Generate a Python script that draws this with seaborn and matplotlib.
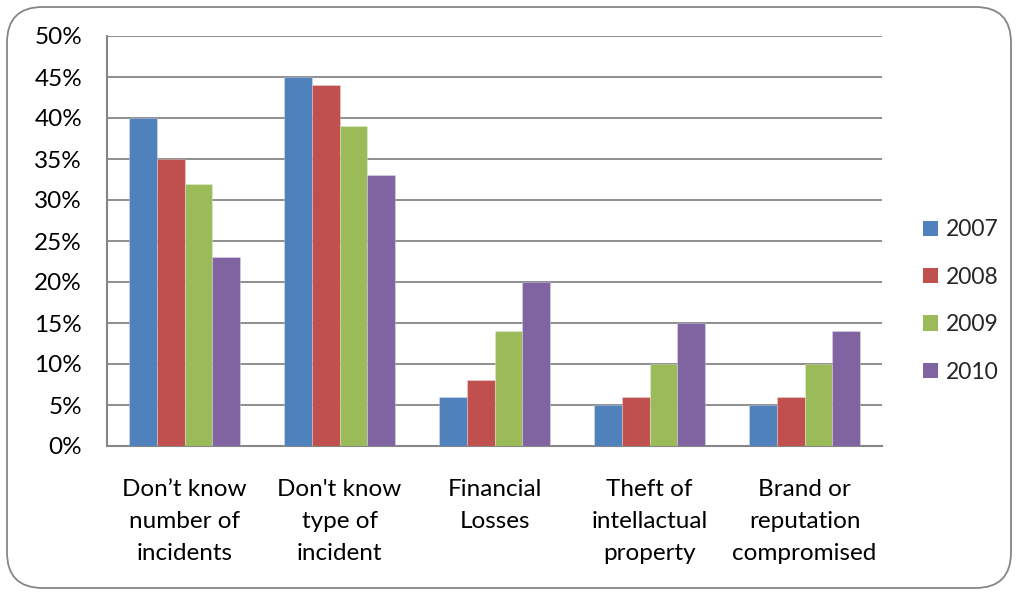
import matplotlib
matplotlib.use("Agg")
import matplotlib.pyplot as plt
import seaborn as sns
import pandas as pd
from matplotlib.patches import FancyBboxPatch
from matplotlib.ticker import FuncFormatter, MultipleLocator

categories = ["Don’t know\nnumber of\nincidents", "Don't know\ntype of\nincident",
              "Financial\nLosses", "Theft of\nintellactual\nproperty",
              "Brand or\nreputation\ncompromised"]
years = ["2007", "2008", "2009", "2010"]
v2007 = [40, 45, 6, 5, 5]
v2008 = [35, 44, 8, 6, 6]
v2009 = [32, 39, 14, 10, 10]
v2010 = [23, 33, 20, 15, 14]
colors = ["#4F81BD", "#C0504D", "#9BBB59", "#8064A2"]

rows = []
for yr, vals in zip(years, [v2007, v2008, v2009, v2010]):
    for c, v in zip(categories, vals):
        rows.append({"cat": c, "year": yr, "val": v})
df = pd.DataFrame(rows)

sns.set_theme(style="white")
plt.rcParams['font.family'] = ['Lato', 'DejaVu Sans']

fig = plt.figure(figsize=(10.18, 5.95), dpi=100)
ax = fig.add_axes([107/1018, 1-446/595, 775/1018, 410/595])

sns.barplot(data=df, x="cat", y="val", hue="year", palette=colors, width=0.72,
            ax=ax, saturation=1, edgecolor=(1, 1, 1, 0.25), linewidth=0.8, zorder=3)

ax.set_ylim(0, 50)
ax.set_xlim(-0.5, 4.5)
ax.yaxis.set_major_locator(MultipleLocator(5))
ax.yaxis.set_major_formatter(FuncFormatter(lambda v, p: f"{int(round(v))}%"))
ax.grid(axis="y", color="#868686", linewidth=1.3, zorder=0)
ax.set_axisbelow(True)
for s in ["top", "right"]:
    ax.spines[s].set_visible(False)
for s in ["left", "bottom"]:
    ax.spines[s].set_color("#868686")
    ax.spines[s].set_linewidth(1.5)
ax.tick_params(axis="y", length=0, pad=18, labelsize=17.5, labelcolor="black")
ax.tick_params(axis="x", length=0, pad=23.5, labelsize=17.5, labelcolor="black")
for lab in ax.get_xticklabels():
    lab.set_linespacing(1.67)
ax.set_xlabel("")
ax.set_ylabel("")

leg = ax.legend(loc="center left", bbox_to_anchor=(923/1018, 1-301/595),
                bbox_transform=fig.transFigure, frameon=False, fontsize=16.5,
                handlelength=0.65, handleheight=0.65, handletextpad=0.35,
                labelspacing=1.15, borderpad=0, borderaxespad=0)
for h in leg.legend_handles:
    h.set_edgecolor("none")

border = FancyBboxPatch((7/1018, 7/595), 1004/1018, 581/595,
                        boxstyle="round,pad=0,rounding_size=0.035",
                        transform=fig.transFigure, facecolor="none",
                        edgecolor="#868686", linewidth=1.3,
                        mutation_aspect=1018/595)
fig.patches.append(border)

fig.savefig("out.png", dpi=100)
